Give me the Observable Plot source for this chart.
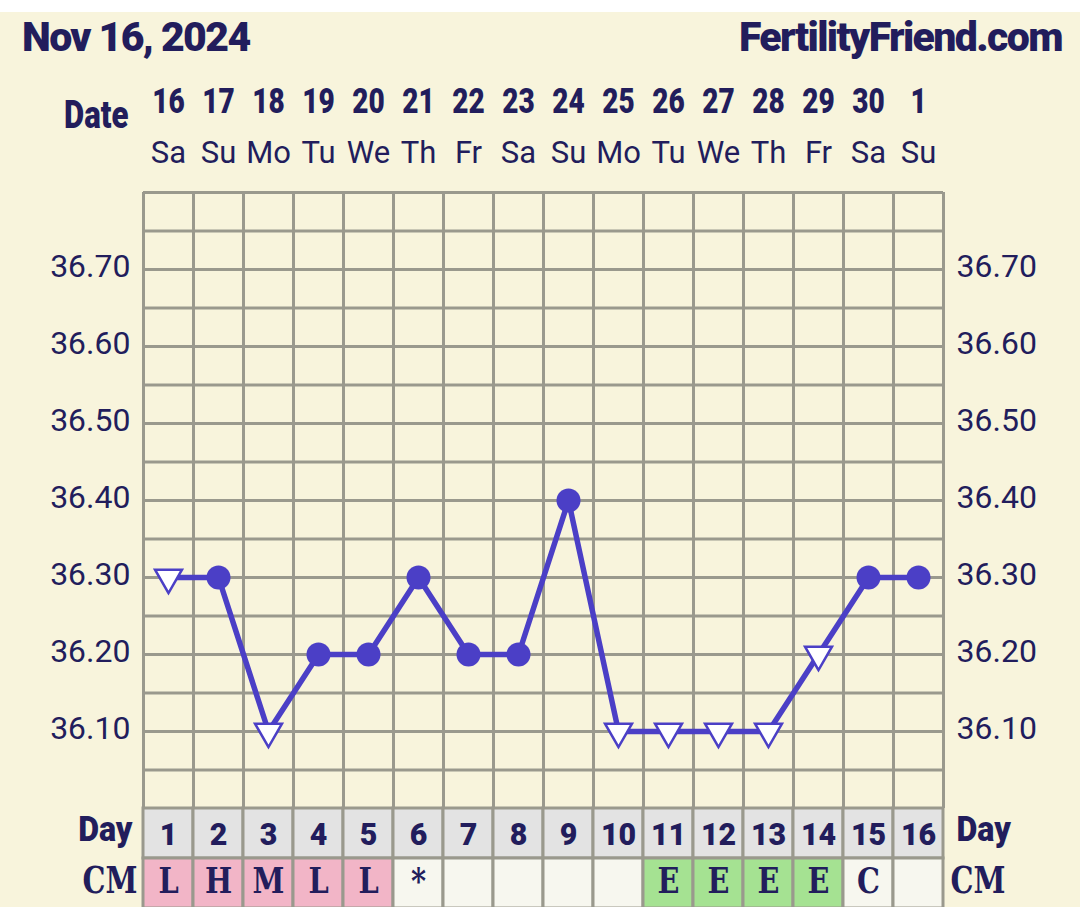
<!DOCTYPE html>
<html><head><meta charset="utf-8">
<script src="https://cdn.jsdelivr.net/npm/d3@7"></script>
<script src="https://cdn.jsdelivr.net/npm/@observablehq/plot@0.6"></script>
<style>
html,body{margin:0;padding:0;background:#ffffff;}
#wrap{margin-top:12px;background:#f8f4dc;width:1080px;height:895px;overflow:hidden;position:relative;}
#header{position:relative;height:58px;font-family:Roboto,sans-serif;font-weight:900;color:#221d5c;}
#header span{position:absolute;top:5px;font-size:41px;line-height:1;letter-spacing:-1.6px;white-space:nowrap;}
#t1{left:22px;}
#t2{right:18px;}
svg{display:block;}
</style></head><body>
<div id="wrap"><div id="header"><span id="t1"></span><span id="t2"></span></div><div id="chart"></div></div>
<script>
// ---- data ----
const titleLeft = "Nov 16, 2024";
const titleRight = "FertilityFriend.com";
const cycleDays = [1, 2, 3, 4, 5, 6, 7, 8, 9, 10, 11, 12, 13, 14, 15, 16];
const dates = ["16", "17", "18", "19", "20", "21", "22", "23", "24", "25", "26", "27", "28", "29", "30", "1"];
const weekdays = ["Sa", "Su", "Mo", "Tu", "We", "Th", "Fr", "Sa", "Su", "Mo", "Tu", "We", "Th", "Fr", "Sa", "Su"];
const temps = [36.30, 36.30, 36.10, 36.20, 36.20, 36.30, 36.20, 36.20, 36.40, 36.10, 36.10, 36.10, 36.10, 36.20, 36.30, 36.30];
const markerType = ["open", "dot", "open", "dot", "dot", "dot", "dot", "dot", "dot", "open", "open", "open", "open", "open", "dot", "dot"];
const cmCodes = ["L", "H", "M", "L", "L", "*", "", "", "", "", "E", "E", "E", "E", "C", ""];
const cmCategory = ["flow", "flow", "flow", "flow", "flow", "none", "none", "none", "none", "none", "eggwhite", "eggwhite", "eggwhite", "eggwhite", "none", "none"];
const yTickValues = [36.1, 36.2, 36.3, 36.4, 36.5, 36.6, 36.7];
const yGridValues = [36.0, 36.05, 36.1, 36.15, 36.2, 36.25, 36.3, 36.35, 36.4, 36.45, 36.5, 36.55, 36.6, 36.65, 36.7, 36.75, 36.8];
const rowNames = ["Day", "CM"];

// ---- styles ----
const ink = "#221d5c";
const purple = "#4b3fc6";
const gridColor = "#9a998d";
const cellColors = {domain: ["day", "flow", "eggwhite", "none"], range: ["#e3e3e3", "#f2b5c7", "#a5e292", "#f7f7ef"]};
const W = 1080, ML = 143, MR = 137;

document.getElementById("t1").textContent = titleLeft;
document.getElementById("t2").textContent = titleRight;

const rows = cycleDays.map((d, i) => ({day: d, date: dates[i], wd: weekdays[i], temp: temps[i], marker: markerType[i], cm: cmCodes[i], cat: cmCategory[i]}));
const colEdges = [0.5].concat(cycleDays.map(d => d + 0.5));

// horizontally condense the n-th text mark of a plot (text marks' groups have aria-label "text")
function squeeze(svg, n, s) {
  const groups = Array.from(svg.children).filter(g => g.tagName === "g" && g.getAttribute("aria-label") === "text");
  const g = groups[n];
  if (!g) return;
  g.querySelectorAll("text").forEach(t => {
    const tr = t.getAttribute("transform") || "";
    t.setAttribute("transform", tr + ` scale(${s},1)`);
  });
}

const plot1 = Plot.plot({
  width: W, height: 738,
  marginTop: 122, marginBottom: 0, marginLeft: ML, marginRight: MR,
  style: {background: "transparent", color: ink, fontFamily: "Roboto, sans-serif"},
  x: {domain: [0.5, 16.5], axis: null},
  y: {domain: [36.0, 36.8], axis: null},
  marks: [
    Plot.ruleX(colEdges, {stroke: gridColor, strokeWidth: 3}),
    Plot.ruleY(yGridValues, {stroke: gridColor, strokeWidth: 3}),
    Plot.axisY(yTickValues, {anchor: "left", tickSize: 0, tickPadding: 13, tickFormat: d => d.toFixed(2), fontSize: 32, dy: -3, label: null}),
    Plot.axisY(yTickValues, {anchor: "right", tickSize: 0, tickPadding: 13, tickFormat: d => d.toFixed(2), fontSize: 32, dy: -3, label: null}),
    Plot.text(rows, {x: "day", text: "date", frameAnchor: "top", dy: -80, lineAnchor: "bottom", fontSize: 35, fontWeight: 900, fill: ink}),
    Plot.text(rows, {x: "day", text: "wd", frameAnchor: "top", dy: -30, lineAnchor: "bottom", fontSize: 31, fill: ink}),
    Plot.text(["Date"], {frameAnchor: "top-left", textAnchor: "end", lineAnchor: "bottom", dx: -15, dy: -65, fontSize: 38, fontWeight: 900, fill: ink}),
    Plot.line(rows, {x: "day", y: "temp", stroke: purple, strokeWidth: 5.5}),
    Plot.dot(rows.filter(d => d.marker === "dot"), {x: "day", y: "temp", r: 12, fill: purple}),
    Plot.dot(rows.filter(d => d.marker === "open"), {x: "day", y: "temp", symbol: "triangle", rotate: 180, r: 10, fill: "white", stroke: purple, strokeWidth: 2.5})
  ]
});
squeeze(plot1, 0, 0.8);
squeeze(plot1, 2, 0.82);

const cells = rows.flatMap(d => [
  {day: d.day, row: "Day", label: String(d.day), cat: "day"},
  {day: d.day, row: "CM", label: d.cm, cat: d.cat}
]);

const plot2 = Plot.plot({
  width: W, height: 100,
  marginTop: 0, marginBottom: 0, marginLeft: ML, marginRight: MR,
  style: {background: "transparent", color: ink, fontFamily: "Roboto, sans-serif", overflow: "visible"},
  x: {type: "band", domain: cycleDays, padding: 0, axis: null},
  y: {type: "band", domain: rowNames, padding: 0, axis: null},
  color: cellColors,
  marks: [
    Plot.cell(cells, {x: "day", y: "row", fill: "cat", stroke: gridColor, strokeWidth: 3, inset: 0}),
    Plot.text(cells.filter(c => c.row === "Day"), {x: "day", y: "row", text: "label", fontSize: 32, fontWeight: 900, fill: ink, dy: 1}),
    Plot.text(cells.filter(c => c.row === "CM"), {x: "day", y: "row", text: "label", fontSize: 36, fontWeight: "bold", fontFamily: "DejaVu Serif", fill: ink, dy: -2}),
    Plot.text(["Day"], {y: () => "Day", frameAnchor: "left", textAnchor: "end", dx: -11, dy: -4, fontSize: 35, fontWeight: 900, fill: ink}),
    Plot.text(["Day"], {y: () => "Day", frameAnchor: "right", textAnchor: "start", dx: 13, dy: -4, fontSize: 35, fontWeight: 900, fill: ink}),
    Plot.text(["CM"], {y: () => "CM", frameAnchor: "left", textAnchor: "end", dx: -6, dy: -2, fontSize: 37, fontWeight: "bold", fontFamily: "DejaVu Serif", fill: ink}),
    Plot.text(["CM"], {y: () => "CM", frameAnchor: "right", textAnchor: "start", dx: 7, dy: -2, fontSize: 37, fontWeight: "bold", fontFamily: "DejaVu Serif", fill: ink})
  ]
});
squeeze(plot2, 0, 0.95);
squeeze(plot2, 1, 0.8);
squeeze(plot2, 2, 0.92);
squeeze(plot2, 3, 0.92);
squeeze(plot2, 4, 0.78);
squeeze(plot2, 5, 0.78);

const chart = document.getElementById("chart");
chart.appendChild(plot1);
chart.appendChild(plot2);
</script>
</body></html>
